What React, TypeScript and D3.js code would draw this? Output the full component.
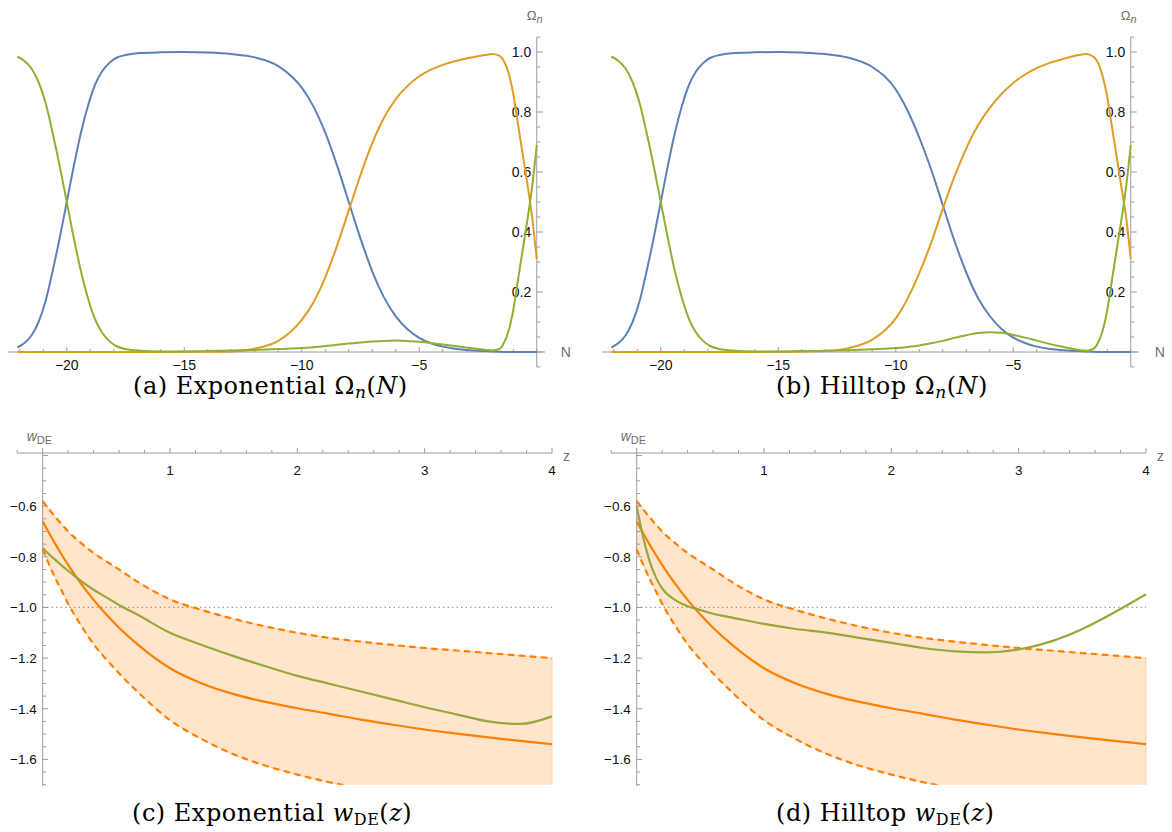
import React from 'react';
import * as d3 from 'd3';

// e-fold grid shared by the Omega_n(N) panels
const N_GRID = [
  -22.1, -21.8, -21.5, -21.2, -20.9, -20.6, -20.3, -20, -19.7, -19.4,
  -19.1, -18.8, -18.5, -18.2, -17.9, -17.5, -17, -16, -15, -14,
  -13, -12, -11, -10, -9.5, -9, -8.5, -8, -7.5, -7,
  -6.5, -6, -5.5, -5, -4.5, -4, -3.5, -3, -2.5, -2.2,
  -1.9, -1.6, -1.4, -1.2, -1, -0.8, -0.6, -0.4, -0.2, 0,
];

// (a) Exponential
const BLUE_EXP = [
  0.015, 0.03, 0.055, 0.1, 0.17, 0.27, 0.38, 0.5, 0.62, 0.73,
  0.82, 0.89, 0.935, 0.963, 0.98, 0.99, 0.996, 0.999, 1.0, 0.998,
  0.993, 0.982, 0.953, 0.881, 0.818, 0.731, 0.622, 0.5, 0.378, 0.269,
  0.182, 0.119, 0.076, 0.047, 0.029, 0.018, 0.011, 0.007, 0.004, 0.003,
  0.002, 0.001, 0, 0, 0, 0, 0, 0, 0, 0,
];
const ORANGE_EXP = [
  0, 0, 0, 0, 0, 0, 0, 0, 0, 0,
  0, 0, 0, 0, 0, 0, 0, 0, 0.0005, 0.001,
  0.002, 0.011, 0.037, 0.107, 0.166, 0.249, 0.354, 0.472, 0.59, 0.696,
  0.781, 0.843, 0.887, 0.919, 0.941, 0.957, 0.969, 0.978, 0.986, 0.99,
  0.993, 0.988, 0.97, 0.93, 0.86, 0.76, 0.66, 0.56, 0.45, 0.31,
];
const GREEN_EXP = [
  0.985, 0.97, 0.945, 0.9, 0.83, 0.73, 0.62, 0.5, 0.38, 0.27,
  0.18, 0.11, 0.065, 0.037, 0.02, 0.01, 0.005, 0.002, 0.002, 0.003,
  0.005, 0.007, 0.01, 0.013, 0.016, 0.02, 0.024, 0.028, 0.032, 0.035,
  0.037, 0.038, 0.037, 0.034, 0.03, 0.025, 0.02, 0.015, 0.01, 0.007,
  0.005, 0.01, 0.03, 0.07, 0.14, 0.24, 0.34, 0.44, 0.55, 0.69,
];

// (b) Hilltop
const BLUE_HILL = [
  0.015, 0.03, 0.055, 0.1, 0.17, 0.27, 0.38, 0.5, 0.62, 0.73,
  0.82, 0.89, 0.935, 0.963, 0.98, 0.99, 0.996, 0.999, 1.0, 0.998,
  0.993, 0.981, 0.95, 0.875, 0.805, 0.715, 0.61, 0.49, 0.37, 0.265,
  0.18, 0.12, 0.077, 0.048, 0.03, 0.018, 0.011, 0.007, 0.004, 0.003,
  0.002, 0.001, 0, 0, 0, 0, 0, 0, 0, 0,
];
const ORANGE_HILL = [
  0, 0, 0, 0, 0, 0, 0, 0, 0, 0,
  0, 0, 0, 0, 0, 0, 0, 0, 0.0005, 0.001,
  0.003, 0.013, 0.041, 0.112, 0.178, 0.263, 0.363, 0.477, 0.585, 0.679,
  0.756, 0.814, 0.86, 0.897, 0.925, 0.946, 0.962, 0.974, 0.985, 0.99,
  0.993, 0.985, 0.965, 0.92, 0.85, 0.75, 0.65, 0.55, 0.45, 0.31,
];
const GREEN_HILL = [
  0.985, 0.97, 0.945, 0.9, 0.83, 0.73, 0.62, 0.5, 0.38, 0.27,
  0.18, 0.11, 0.065, 0.037, 0.02, 0.01, 0.005, 0.002, 0.002, 0.003,
  0.004, 0.006, 0.009, 0.013, 0.017, 0.022, 0.029, 0.037, 0.047, 0.056,
  0.063, 0.066, 0.064, 0.057, 0.048, 0.038, 0.028, 0.019, 0.011, 0.007,
  0.004, 0.01, 0.03, 0.07, 0.14, 0.24, 0.34, 0.44, 0.55, 0.69,
];

// redshift grid for w_DE(z)
const Z_GRID = [0, 0.05, 0.1, 0.15, 0.2, 0.3, 0.4, 0.5, 0.6, 0.75, 1, 1.25, 1.5, 1.75, 2, 2.25, 2.5, 2.75, 3, 3.25, 3.5, 3.75, 4];
const W_UPPER = [-0.58, -0.612, -0.643, -0.672, -0.7, -0.745, -0.785, -0.818, -0.85, -0.9, -0.968, -1.01, -1.045, -1.075, -1.1, -1.12, -1.135, -1.148, -1.16, -1.17, -1.18, -1.19, -1.2];
const W_LOWER = [-0.77, -0.83, -0.885, -0.935, -0.985, -1.07, -1.145, -1.205, -1.26, -1.335, -1.445, -1.52, -1.58, -1.625, -1.66, -1.69, -1.715, -1.735, -1.755, -1.77, -1.785, -1.8, -1.81];
const W_MEAN = [-0.66, -0.706, -0.75, -0.792, -0.832, -0.905, -0.97, -1.028, -1.08, -1.148, -1.24, -1.3, -1.342, -1.373, -1.398, -1.42, -1.443, -1.463, -1.482, -1.498, -1.513, -1.527, -1.54];
const W_EXP = [-0.765, -0.79, -0.812, -0.835, -0.855, -0.895, -0.93, -0.96, -0.99, -1.03, -1.1, -1.148, -1.192, -1.232, -1.27, -1.301, -1.332, -1.363, -1.394, -1.422, -1.45, -1.46, -1.43];
const W_HILL = [-0.6, -0.72, -0.815, -0.88, -0.925, -0.97, -0.995, -1.01, -1.025, -1.04, -1.065, -1.085, -1.1, -1.12, -1.14, -1.16, -1.173, -1.177, -1.166, -1.135, -1.085, -1.02, -0.948];

// tick labels
const N_TICKS = [-20, -15, -10, -5];
const OMEGA_TICKS = [0.2, 0.4, 0.6, 0.8, 1.0];
const Z_TICKS = [1, 2, 3, 4];
const W_TICKS = [-0.6, -0.8, -1.0, -1.2, -1.4, -1.6];

const AXIS = '#9d9d9d';
const LABEL = '#6f6f6f';
const BLUE = '#5E81B5';
const ORANGE = '#E19C24';
const GREEN = '#8FB032';
const W_ORANGE = '#FF7F00';
const W_GREEN = '#97A83A';
const BAND = '#FFE5CC';
const SANS = '"Liberation Sans", Arial, sans-serif';
const SERIF = '"DejaVu Serif", "Liberation Serif", serif';

const minus = (s: string) => s.replace('-', '\u2212');

// top row: Omega_n(N)
const OmegaPanel = ({ dx, blue, orange, green, tag, name, capX }: any) => {
  const x = d3.scaleLinear().domain([-22.5, 0.35]).range([8 + dx, 545 + dx]);
  const y = d3.scaleLinear().domain([-0.05, 1.05]).range([367, 37]);
  const path = (vals: number[]) =>
    d3.line<number>().x((_, i) => x(N_GRID[i])).y(d => y(d)).curve(d3.curveMonotoneX)(vals) || '';
  const x0 = x(0);
  const y0 = y(0);
  const minorX = d3.range(-22, 1, 1);
  const minorY = d3.range(-1, 22).map(i => i * 0.05);

  return (
    <g>
      {/* axes */}
      <line x1={x.range()[0]} x2={x.range()[1]} y1={y0} y2={y0} stroke={AXIS} strokeWidth={1} />
      <line x1={x0} x2={x0} y1={y.range()[1]} y2={y.range()[0]} stroke={AXIS} strokeWidth={1} />
      {minorX.map(v => (
        <line key={'mx' + v} x1={x(v)} x2={x(v)} y1={y0} y2={y0 - (N_TICKS.includes(v) ? 5 : 3)} stroke={AXIS} />
      ))}
      {minorY.map((v, i) => (
        <line key={'my' + i} x1={x0} x2={x0 + (i % 4 === 1 ? 6 : 3.5)} y1={y(v)} y2={y(v)} stroke={AXIS} />
      ))}
      {N_TICKS.map(v => (
        <text key={'nt' + v} x={x(v)} y={370} textAnchor="middle" fontFamily={SANS} fontSize={14} fill="#111">
          {minus(String(v))}
        </text>
      ))}
      {OMEGA_TICKS.map(v => (
        <text key={'ot' + v} x={x0 - 5.5} y={y(v) + 5} textAnchor="end" fontFamily={SANS} fontSize={14} fill="#111">
          {v.toFixed(1)}
        </text>
      ))}
      <text x={x0 + 24} y={357} fontFamily={SANS} fontSize={14} fill={LABEL}>N</text>
      <text x={x0 - 10} y={20} fontFamily={SANS} fontSize={13} fill={LABEL}>
        Ω<tspan fontStyle="italic" fontSize={11} dy={2.5}>n</tspan>
      </text>

      {/* curves */}
      <path d={path(blue)} fill="none" stroke={BLUE} strokeWidth={2} />
      <path d={path(orange)} fill="none" stroke={ORANGE} strokeWidth={2} />
      <path d={path(green)} fill="none" stroke={GREEN} strokeWidth={2} />

      <text x={capX} y={394} fontFamily={SERIF} fontSize={24} letterSpacing={0.5} fill="#000">
        ({tag}) {name} Ω<tspan fontStyle="italic" fontSize={17} dy={4}>n</tspan>
        <tspan dy={-4}>(</tspan><tspan fontStyle="italic">N</tspan>)
      </text>
    </g>
  );
};

// bottom row: w_DE(z)
const WPanel = ({ dx, model, tag, name, capX }: any) => {
  const x = d3.scaleLinear().domain([-0.2, 4]).range([17.2 + dx, 552 + dx]);
  const y = d3.scaleLinear().domain([-1.705, -0.39]).range([786, 453]);
  const path = (vals: number[]) =>
    d3.line<number>().x((_, i) => x(Z_GRID[i])).y(d => y(d)).curve(d3.curveMonotoneX)(vals) || '';
  const band = d3.area<number>()
    .x(i => x(Z_GRID[i]))
    .y0(i => y(W_LOWER[i]))
    .y1(i => y(W_UPPER[i]))
    .curve(d3.curveMonotoneX)(Z_GRID.map((_, i) => i)) || '';
  const x0 = x(0);
  const yTop = y(-0.39);
  const minorX = d3.range(-1, 21).map(i => i * 0.2);
  const minorY = d3.range(8, 35).map(i => -i * 0.05);
  const clipId = 'clip-' + tag;

  return (
    <g>
      <defs>
        <clipPath id={clipId}>
          <rect x={x0 - 2} y={yTop} width={x(4) - x0 + 4} height={y(-1.7) - yTop} />
        </clipPath>
      </defs>

      <g clipPath={`url(#${clipId})`}>
        <path d={band} fill={BAND} stroke="#FDD3AC" strokeWidth={1} />
        <line x1={x(0)} x2={x(4)} y1={y(-1)} y2={y(-1)} stroke="#8a8a8a" strokeWidth={1.2} strokeDasharray="1.2 3.3" />
        <path d={path(W_UPPER)} fill="none" stroke={W_ORANGE} strokeWidth={2.2} strokeDasharray="6.5 4.5" />
        <path d={path(W_LOWER)} fill="none" stroke={W_ORANGE} strokeWidth={2.2} strokeDasharray="6.5 4.5" />
        <path d={path(W_MEAN)} fill="none" stroke={W_ORANGE} strokeWidth={2.2} />
        <path d={path(model)} fill="none" stroke={W_GREEN} strokeWidth={2.2} />
      </g>

      {/* axes */}
      <line x1={x.range()[0]} x2={x.range()[1]} y1={yTop} y2={yTop} stroke={AXIS} />
      <line x1={x0} x2={x0} y1={yTop} y2={y.range()[0]} stroke={AXIS} />
      {minorX.map((v, i) => (
        <line key={'zx' + i} x1={x(v)} x2={x(v)} y1={yTop} y2={yTop - (i % 5 === 1 ? 5 : 3)} stroke={AXIS} />
      ))}
      {minorY.map((v, i) => (
        <line key={'wy' + i} x1={x0} x2={x0 + ((i + 8) % 4 === 0 ? 5.5 : 3.5)} y1={y(v)} y2={y(v)} stroke={AXIS} />
      ))}
      {Z_TICKS.map(v => (
        <text key={'zt' + v} x={x(v)} y={475} textAnchor="middle" fontFamily={SANS} fontSize={13.5} fill="#111">
          {v}
        </text>
      ))}
      {W_TICKS.map(v => (
        <text key={'wt' + v} x={x0 - 6} y={y(v) + 4.8} textAnchor="end" fontFamily={SANS} fontSize={13.5} fill="#111">
          {minus(v.toFixed(1))}
        </text>
      ))}
      <text x={x(4) + 11} y={461} fontFamily={SANS} fontSize={14} fill={LABEL}>z</text>
      <text x={x0 - 16} y={441} fontFamily={SANS} fontSize={14} fill={LABEL}>
        <tspan fontStyle="italic">w</tspan><tspan fontSize={11} dy={3}>DE</tspan>
      </text>

      <text x={capX} y={821} fontFamily={SERIF} fontSize={24} letterSpacing={0.5} fill="#000">
        ({tag}) {name} <tspan fontStyle="italic">w</tspan>
        <tspan fontSize={16} dy={4}>DE</tspan>
        <tspan dy={-4}>(</tspan><tspan fontStyle="italic">z</tspan>)
      </text>
    </g>
  );
};

export default function App() {
  return (
    <svg width={1172} height={832} style={{ position: 'absolute', left: 0, top: 0, background: '#fff' }}>
      <OmegaPanel dx={0} blue={BLUE_EXP} orange={ORANGE_EXP} green={GREEN_EXP} tag="a" name="Exponential" capX={133} />
      <OmegaPanel dx={594} blue={BLUE_HILL} orange={ORANGE_HILL} green={GREEN_HILL} tag="b" name="Hilltop" capX={776} />
      <WPanel dx={0} model={W_EXP} tag="c" name="Exponential" capX={132} />
      <WPanel dx={594} model={W_HILL} tag="d" name="Hilltop" capX={776} />
    </svg>
  );
}
